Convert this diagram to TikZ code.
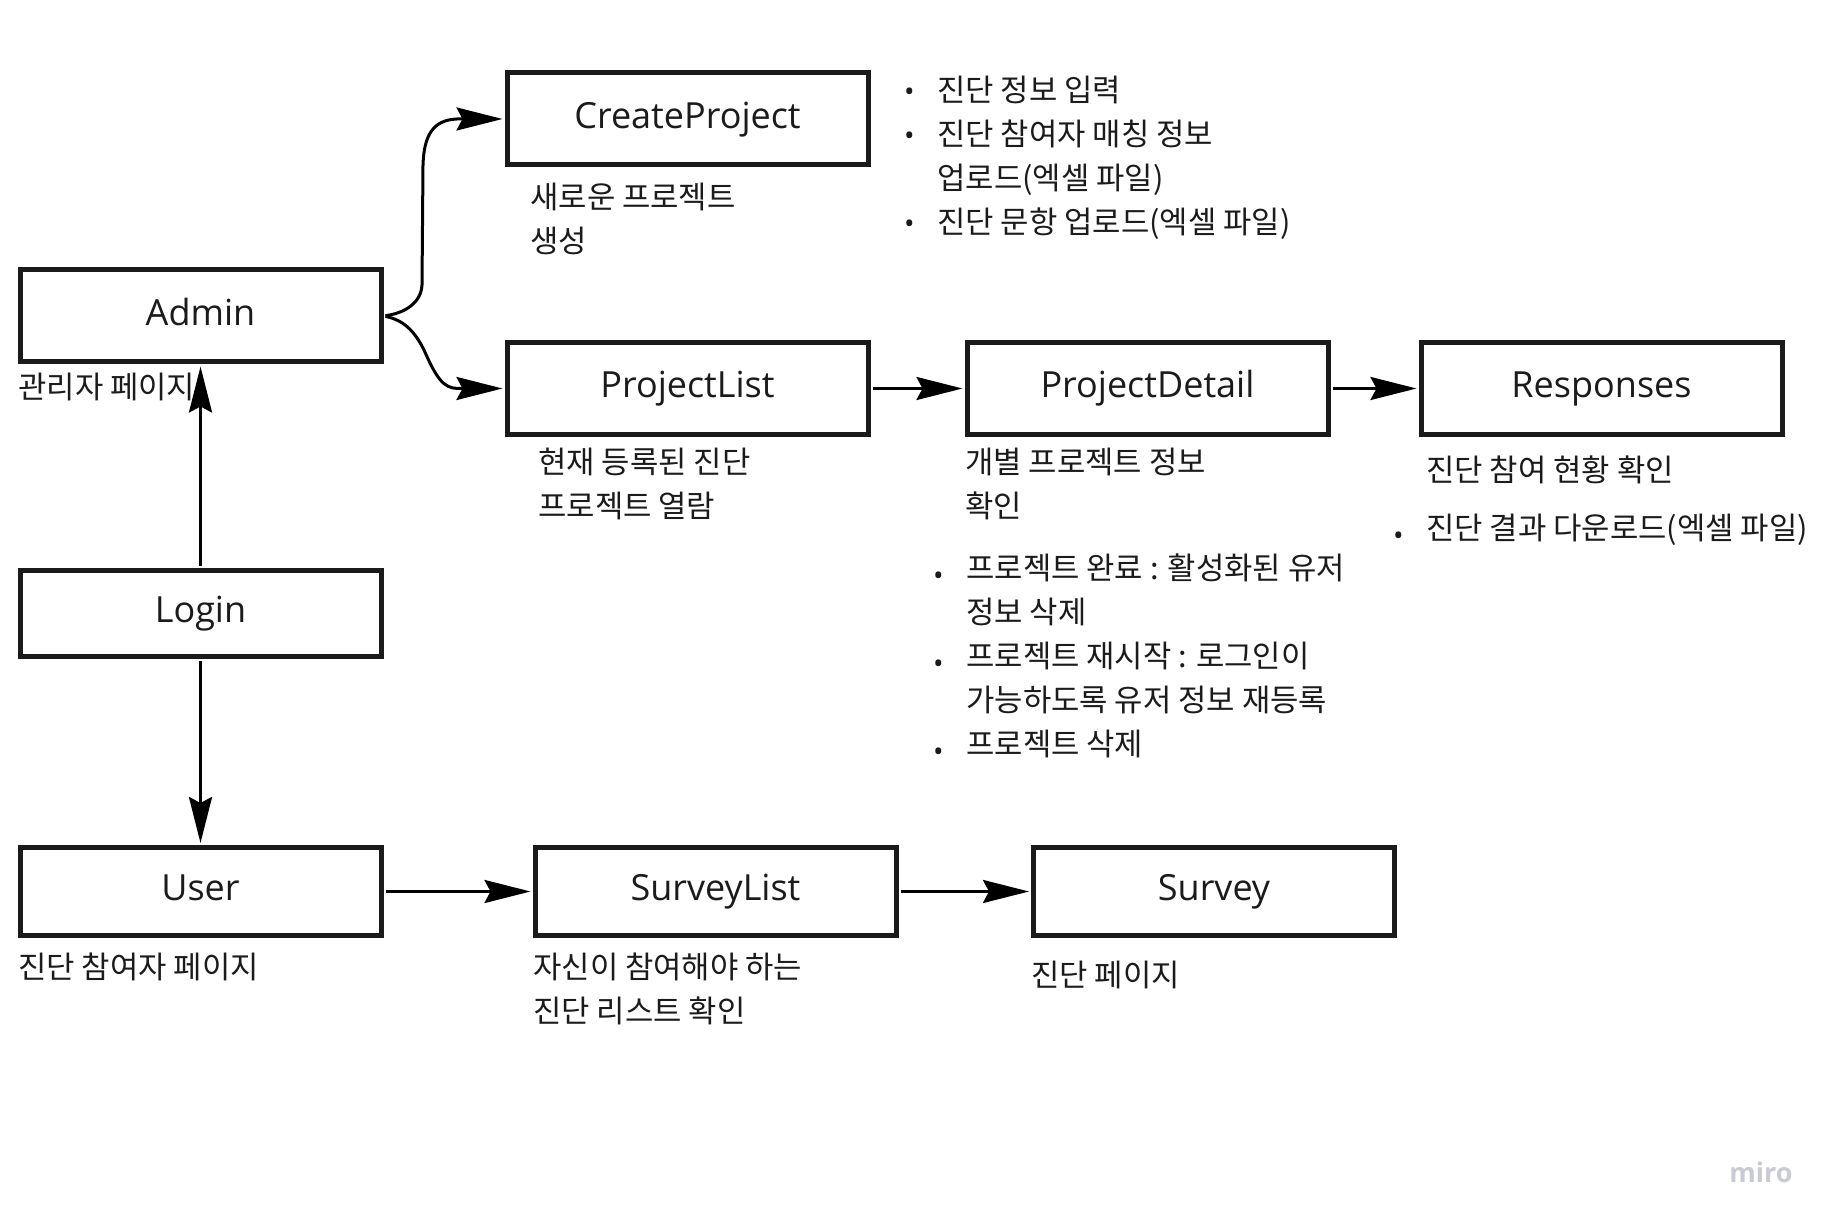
\documentclass[tikz,border=0pt]{standalone}
\usepackage{fontspec}
\setmainfont{Open Sans}
\newfontfamily\kr{Noto Sans CJK KR}
\usetikzlibrary{arrows.meta}
\usetikzlibrary{positioning}

\definecolor{ink}{HTML}{1B1B1B}
\definecolor{mirogray}{HTML}{C9CAD6}

% bullet and hanging indent for the note lists
\newcommand{\bul}[1][-3pt]{\makebox[28pt]{\normalfont\fontsize{14}{14}\selectfont\raisebox{#1}{\textbullet}}}
\newcommand{\ind}{\hspace*{28pt}}
\newcommand{\lines}[1]{\begin{tabular}{@{}l@{}}#1\end{tabular}}

\tikzset{
  page/.style={draw=ink, line width=2.5pt, fill=white, minimum width=180.5pt,
    minimum height=46pt, inner sep=0pt, text=ink, text height=13.4pt, text depth=4pt,
    font=\fontsize{18}{22}\selectfont},
  note/.style={anchor=north west, inner sep=0pt, text=ink, font=\kr\fontsize{15.4}{22}\selectfont},
  flow/.style={-{Stealth[length=23pt,width=11.5pt,inset=3pt]}, line width=1.5pt,
    shorten <=1pt, shorten >=1pt},
}

\begin{document}
\begin{tikzpicture}[x=0.5pt, y=-0.5pt]
  \fill[white] (0,0) rectangle (1837,1224);
  \useasboundingbox (0,0) rectangle (1837,1224);

  % admin side
  \node[page] (admin) at (200.5,316) {Admin};
  \node[page] (cp) at (687.5,119) {CreateProject};
  \node[page] (pl) at (687.5,388.5) {ProjectList};
  \node[page, right=47pt of pl] (pd) {ProjectDetail};
  \node[page, right=44pt of pd] (rs) {Responses};

  % login and user side
  \node[page, minimum height=43pt] (login) at (200.5,613.5) {Login};
  \node[page, minimum height=44pt] (user) at (200.5,891.5) {User};
  \node[page, minimum height=44pt] (sl) at (715.5,891.5) {SurveyList};
  \node[page, minimum height=44pt] (sv) at (1214,891.5) {Survey};

  % notes
  \node[note] (adminnote) at (18,367) {\lines{관리자 페이지}};
  \node[note] (cpnote) at (530,177) {\lines{새로운 프로젝트\\생성}};
  \node[note] (cplist) at (881,70) {\lines{
    \bul[0pt]진단 정보 입력\\
    \bul[0pt]진단 참여자 매칭 정보\\
    \ind 업로드(엑셀 파일)\\
    \bul[0pt]진단 문항 업로드(엑셀 파일)}};
  \node[note] (plnote) at (538,442) {\lines{현재 등록된 진단\\프로젝트 열람}};
  \node[note] (pdnote) at (965,442) {\lines{개별 프로젝트 정보\\확인}};
  \node[note] (pdlist) at (910,548) {\lines{
    \bul 프로젝트 완료 : 활성화된 유저\\
    \ind 정보 삭제\\
    \bul 프로젝트 재시작 : 로그인이\\
    \ind 가능하도록 유저 정보 재등록\\
    \bul 프로젝트 삭제}};
  \node[note] (rsnote) at (1426,450) {\lines{진단 참여 현황 확인}};
  \node[note] (rslist) at (1370,508) {\lines{\bul 진단 결과 다운로드(엑셀 파일)}};
  \node[note] (usernote) at (18,947) {\lines{진단 참여자 페이지}};
  \node[note] (slnote) at (533,947) {\lines{자신이 참여해야 하는\\진단 리스트 확인}};
  \node[note] (svnote) at (1031,955) {\lines{진단 페이지}};

  \node[anchor=east, inner sep=0pt, text=mirogray, font=\bfseries\fontsize{13.5}{14}\selectfont] (logo) at (1793,1172) {miro};

  % connectors
  \draw[flow] (admin.east) .. controls (405,313) and (421,303) .. (422,285)
    -- (423,165) .. controls (424,135) and (433,120) .. (457,119) -- (cp.west);
  \draw[flow] (admin.east) .. controls (403,320) and (414,330) .. (424,350)
    .. controls (436,377) and (443,388.5) .. (458,388.5) -- (pl.west);
  \draw[flow] (pl) -- (pd);
  \draw[flow] (pd) -- (rs);
  \draw[flow] (login) -- (admin);
  \draw[flow] (login) -- (user);
  \draw[flow] (user) -- (sl);
  \draw[flow] (sl) -- (sv);
\end{tikzpicture}
\end{document}
